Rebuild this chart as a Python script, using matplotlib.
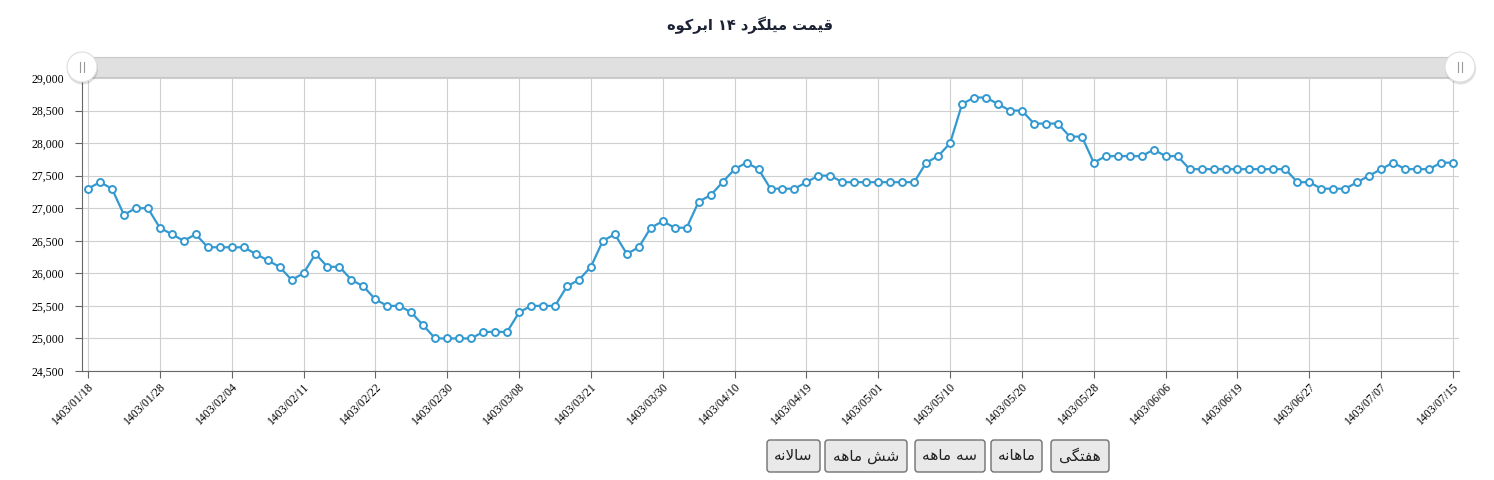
import re
import numpy as np
import matplotlib
matplotlib.use("Agg")
import matplotlib.pyplot as plt
from matplotlib.patches import Circle, FancyBboxPatch, Rectangle

# data (one point every few days, labels on every 6th point)
prices = [
    27300, 27400, 27300, 26900, 27000, 27000, 26700, 26600, 26500, 26600,
    26400, 26400, 26400, 26400, 26300, 26200, 26100, 25900, 26000, 26300,
    26100, 26100, 25900, 25800, 25600, 25500, 25500, 25400, 25200, 25000,
    25000, 25000, 25000, 25100, 25100, 25100, 25400, 25500, 25500, 25500,
    25800, 25900, 26100, 26500, 26600, 26300, 26400, 26700, 26800, 26700,
    26700, 27100, 27200, 27400, 27600, 27700, 27600, 27300, 27300, 27300,
    27400, 27500, 27500, 27400, 27400, 27400, 27400, 27400, 27400, 27400,
    27700, 27800, 28000, 28600, 28700, 28700, 28600, 28500, 28500, 28300,
    28300, 28300, 28100, 28100, 27700, 27800, 27800, 27800, 27800, 27900,
    27800, 27800, 27600, 27600, 27600, 27600, 27600, 27600, 27600, 27600,
    27600, 27400, 27400, 27300, 27300, 27300, 27400, 27500, 27600, 27700,
    27600, 27600, 27600, 27700, 27700,
]
tick_labels = [
    "1403/01/18", "1403/01/28", "1403/02/04", "1403/02/11", "1403/02/22",
    "1403/02/30", "1403/03/08", "1403/03/21", "1403/03/30", "1403/04/10",
    "1403/04/19", "1403/05/01", "1403/05/10", "1403/05/20", "1403/05/28",
    "1403/06/06", "1403/06/19", "1403/06/27", "1403/07/07", "1403/07/15",
]
title = "قیمت میلگرد ۱۴ ابرکوه"
buttons = ["هفتگی", "ماهانه", "سه ماهه", "شش ماهه", "سالانه"]

# matplotlib has no arabic shaping, so pick presentation forms by hand
# (isolated, final, initial, medial)
FORMS = {
    "ا": ("\uFE8D", "\uFE8E", None, None),
    "ب": ("\uFE8F", "\uFE90", "\uFE91", "\uFE92"),
    "ت": ("\uFE95", "\uFE96", "\uFE97", "\uFE98"),
    "د": ("\uFEA9", "\uFEAA", None, None),
    "ر": ("\uFEAD", "\uFEAE", None, None),
    "س": ("\uFEB1", "\uFEB2", "\uFEB3", "\uFEB4"),
    "ش": ("\uFEB5", "\uFEB6", "\uFEB7", "\uFEB8"),
    "ف": ("\uFED1", "\uFED2", "\uFED3", "\uFED4"),
    "ق": ("\uFED5", "\uFED6", "\uFED7", "\uFED8"),
    "ل": ("\uFEDD", "\uFEDE", "\uFEDF", "\uFEE0"),
    "م": ("\uFEE1", "\uFEE2", "\uFEE3", "\uFEE4"),
    "ن": ("\uFEE5", "\uFEE6", "\uFEE7", "\uFEE8"),
    "ه": ("\uFEE9", "\uFEEA", "\uFEEB", "\uFEEC"),
    "و": ("\uFEED", "\uFEEE", None, None),
    "ی": ("\uFBFC", "\uFBFD", "\uFBFE", "\uFBFF"),
    "ک": ("\uFB8E", "\uFB8F", "\uFB90", "\uFB91"),
    "گ": ("\uFB92", "\uFB93", "\uFB94", "\uFB95"),
}


def rtl(s):
    out = []
    i = 0
    while i < len(s):
        c = s[i]
        if c not in FORMS:
            out.append(c)
            i += 1
            continue
        prev = s[i - 1] if i > 0 else ""
        join_prev = prev in FORMS and FORMS[prev][2] is not None
        if c == "ل" and i + 1 < len(s) and s[i + 1] == "ا":
            out.append("\uFEFC" if join_prev else "\uFEFB")
            i += 2
            continue
        nxt = s[i + 1] if i + 1 < len(s) else ""
        join_next = FORMS[c][2] is not None and nxt in FORMS
        iso, fin, ini, med = FORMS[c]
        if join_prev and join_next:
            out.append(med)
        elif join_prev:
            out.append(fin)
        elif join_next:
            out.append(ini)
        else:
            out.append(iso)
        i += 1
    runs = re.findall(r"[۰-۹0-9]+|.", "".join(out))
    return "".join(reversed(runs))


W, H = 1494, 480
fig = plt.figure(figsize=(W / 100, H / 100), dpi=100)
ax = fig.add_axes([82 / W, 1 - 371 / H, (1459 - 82) / W, (371 - 78) / H])

x = np.arange(len(prices))
ax.plot(x, prices, color="#3399d0", lw=1.6, marker="o", ms=5,
        mfc="white", mec="#3399d0", mew=1.4, zorder=3)

ax.set_xlim(-0.5, len(prices) - 0.5)
ax.set_ylim(24500, 29000)
ax.set_yticks(np.arange(24500, 29001, 500))
ax.set_yticklabels([f"{v:,}" for v in range(24500, 29001, 500)],
                   family="Liberation Serif", fontsize=8.5)
ax.set_xticks(x[::6])
ax.set_xticklabels(tick_labels, rotation=45, ha="right", va="top",
                   rotation_mode="anchor", family="Liberation Serif", fontsize=8.5)

ax.grid(True, color="#cfcfcf", lw=0.8)
ax.set_axisbelow(True)
for side in ["top", "right"]:
    ax.spines[side].set_visible(False)
for side in ["left", "bottom"]:
    ax.spines[side].set_color("#666666")
ax.tick_params(axis="y", length=5, color="#666666", pad=8)
ax.tick_params(axis="x", length=5, color="#666666", pad=2)

fig.text(750 / W, 1 - 25 / H, rtl(title), ha="center", va="center",
         family="DejaVu Sans", fontweight="bold", fontsize=10.5, color="#1b2233")

# overlay in pixel units for the range slider and the period buttons
ov = fig.add_axes([0, 0, 1, 1], zorder=5)
ov.set_xlim(0, W)
ov.set_ylim(H, 0)
ov.axis("off")

ov.add_patch(Rectangle((84, 57), 1376, 20, fc="#e0e0e0", ec="#c8c8c8", lw=0.8))
for hx in [82, 1460]:
    ov.add_patch(Circle((hx + 0.5, 69), 15.5, fc="#000000", alpha=0.12, lw=0))
    ov.add_patch(Circle((hx, 67), 15, fc="white", ec="#dddddd", lw=0.8))
    ov.plot([hx - 2, hx - 2], [62, 72], color="#999999", lw=0.8)
    ov.plot([hx + 2, hx + 2], [62, 72], color="#999999", lw=0.8)

# buttons laid out right to left
right = 1109
widths = [58, 51, 70, 82, 53]
gaps = [9, 6, 8, 5]
for k, (label, w) in enumerate(zip(buttons, widths)):
    left = right - w
    ov.add_patch(FancyBboxPatch((left, 440), w, 32, boxstyle="round,pad=0,rounding_size=3",
                                fc="#e9e9e9", ec="#707070", lw=1))
    ov.text(left + w / 2, 456, rtl(label), ha="center", va="center",
            family="DejaVu Sans", fontsize=11, color="#222222")
    if k < len(gaps):
        right = left - gaps[k]

fig.savefig("out.png", dpi=100)
